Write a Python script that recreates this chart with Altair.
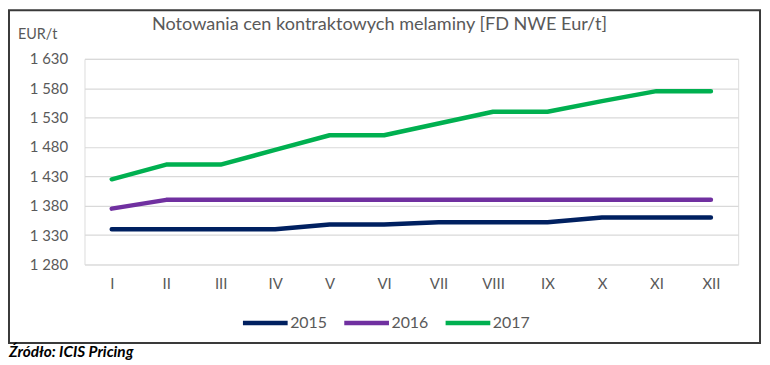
import altair as alt
import pandas as pd

months = ["I", "II", "III", "IV", "V", "VI", "VII", "VIII", "IX", "X", "XI", "XII"]
years = ["2015", "2016", "2017"]
v2015 = [1340, 1340, 1340, 1340, 1348, 1348, 1352, 1352, 1352, 1360, 1360, 1360]
v2016 = [1375, 1390, 1390, 1390, 1390, 1390, 1390, 1390, 1390, 1390, 1390, 1390]
v2017 = [1425, 1450, 1450, 1475, 1500, 1500, 1520, 1540, 1540, 1558, 1575, 1575]
y_ticks = [1280, 1330, 1380, 1430, 1480, 1530, 1580, 1630]
colors = ["#002060", "#7030A0", "#00B050"]

title_text = "Notowania cen kontraktowych melaminy [FD NWE Eur/t]"
unit_text = "EUR/t"
source_text = "Źródło: ICIS Pricing"

rows = []
for yr, vals in zip(years, [v2015, v2016, v2017]):
    for m, v in zip(months, vals):
        rows.append({"month": m, "year": yr, "value": v})
df = pd.DataFrame(rows)

FONT = "Lato"
GRAY = "#595959"

lines = alt.Chart(df).mark_line(strokeWidth=4.5, strokeCap="round", strokeJoin="round").encode(
    x=alt.X("month:N", sort=months, title=None,
            scale=alt.Scale(type="point", padding=0.5),
            axis=alt.Axis(labelAngle=0, domain=False, ticks=False, labelPadding=12,
                          labelFontSize=15, labelColor=GRAY, labelFont=FONT)),
    y=alt.Y("value:Q", title=None,
            scale=alt.Scale(domain=[1280, 1630], nice=False, zero=False),
            axis=alt.Axis(values=y_ticks, domain=False, ticks=False, labelPadding=17,
                          labelFontSize=15, labelColor=GRAY, labelFont=FONT,
                          gridColor="#d9d9d9", gridWidth=1.2,
                          labelExpr="replace(format(datum.value, ','), ',', ' ')")),
    color=alt.Color("year:N", scale=alt.Scale(domain=years, range=colors), title=None,
                    legend=alt.Legend(orient="none", direction="horizontal",
                                      legendX=157, legendY=241,
                                      symbolType="stroke", symbolSize=2025,
                                      symbolStrokeWidth=4.5, labelOffset=0,
                                      columnPadding=7, labelFontSize=16,
                                      labelColor=GRAY, labelFont=FONT)),
)

title = alt.Chart(pd.DataFrame({"t": [title_text]})).mark_text(
    align="center", baseline="alphabetic", fontSize=18.2, font=FONT, color=GRAY
).encode(x=alt.value(297), y=alt.value(-29), text="t:N")

unit = alt.Chart(pd.DataFrame({"t": [unit_text]})).mark_text(
    align="left", baseline="alphabetic", fontSize=14.5, font=FONT, color=GRAY
).encode(x=alt.value(-67), y=alt.value(-20), text="t:N")

source = alt.Chart(pd.DataFrame({"t": [source_text]})).mark_text(
    align="left", baseline="alphabetic", fontSize=15.5, font=FONT, color="#000000",
    fontStyle="italic", fontWeight="bold"
).encode(x=alt.value(-76), y=alt.value(300), text="t:N")

frame = alt.Chart(pd.DataFrame({"t": [0]})).mark_rect(
    filled=False, stroke="#3a3a3a", strokeWidth=2
).encode(x=alt.value(-76), x2=alt.value(680), y=alt.value(-49), y2=alt.value(286))

chart = alt.layer(frame, lines, title, unit, source).properties(
    width=658, height=207,
    autosize=alt.AutoSizeParams(type="none"),
    padding={"left": 77, "top": 50, "right": 24, "bottom": 99},
).configure_view(stroke=None).configure(font=FONT)

chart.save("out.html", embed_options={"renderer": "svg", "actions": False})
